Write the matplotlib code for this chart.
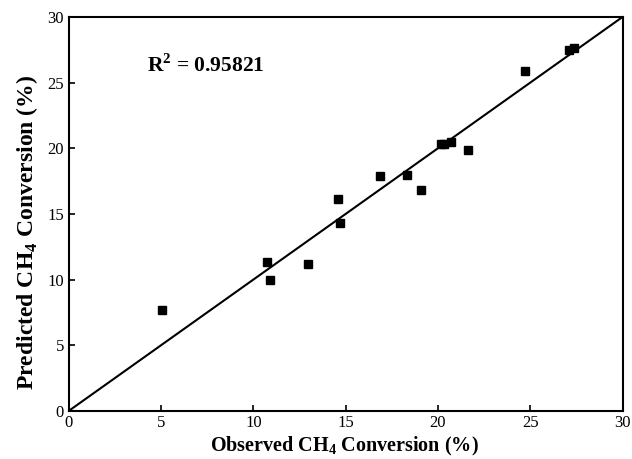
import numpy as np
import matplotlib
matplotlib.use("Agg")
import matplotlib.pyplot as plt

plt.rcParams['font.family'] = ['Liberation Serif', 'DejaVu Serif']
plt.rcParams['mathtext.fontset'] = 'custom'
plt.rcParams['mathtext.rm'] = 'Liberation Serif'
plt.rcParams['mathtext.bf'] = 'Liberation Serif:bold'

# observed vs predicted CH4 conversion (%)
observed = [5.05, 10.75, 10.88, 12.95, 14.6, 14.68, 16.85, 18.3, 19.1,
            20.15, 20.35, 20.72, 21.65, 24.7, 27.1, 27.35]
predicted = [7.65, 11.3, 10.0, 11.2, 16.1, 14.3, 17.85, 18.0, 16.85,
             20.3, 20.3, 20.5, 19.85, 25.85, 27.45, 27.6]
ticks = [0, 5, 10, 15, 20, 25, 30]

fig = plt.figure(figsize=(6.32, 4.59), dpi=100)
ax = fig.add_axes([0.109, 0.105, 0.876, 0.858])

ax.plot([0, 30], [0, 30], color='black', linewidth=1.5)
ax.plot(observed, predicted, 's', color='black', markersize=6)

ax.set_xlim(0, 30)
ax.set_ylim(0, 30)
ax.set_xticks(ticks)
ax.set_yticks(ticks)
ax.tick_params(direction='in', length=4, width=1.2, labelsize=12)
ax.tick_params(axis='x', pad=3)
for s in ax.spines.values():
    s.set_linewidth(1.5)

ax.text(4.25, 25.8, "R$^\\mathbf{2}$ = 0.95821", fontsize=15.5, fontweight='bold')
ax.set_xlabel("Observed CH$_\\mathbf{4}$ Conversion (%)", fontsize=14.5,
              fontweight='bold')
ax.set_ylabel("Predicted CH$_\\mathbf{4}$ Conversion (%)", fontsize=17,
              fontweight='bold')
ax.xaxis.set_label_coords(0.497, -0.062)
ax.yaxis.set_label_coords(-0.053, 0.452)

fig.savefig("out.png", dpi=100)
